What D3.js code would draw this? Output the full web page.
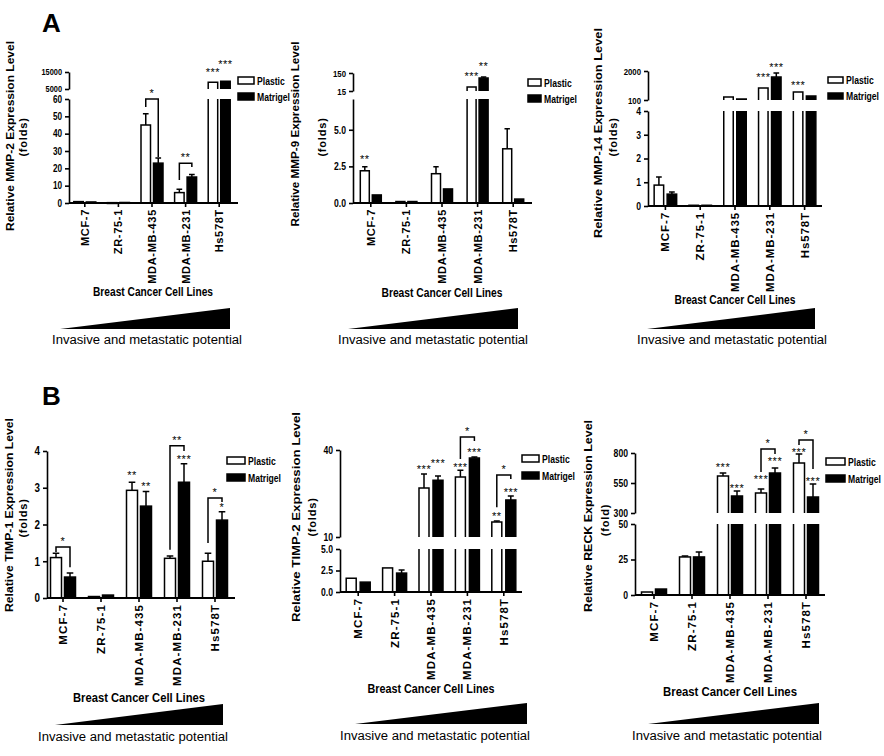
<!DOCTYPE html>
<html>
<head>
<meta charset="utf-8">
<script src="https://cdn.jsdelivr.net/npm/d3@7"></script>
<style>
  body { margin: 0; background: #fff; }
  svg text { font-family: Arial, "Liberation Sans", sans-serif; }
</style>
</head>
<body>
<svg id="fig" width="884" height="756"></svg>
<script>
// ---- data ----
const categories = ["MCF-7", "ZR-75-1", "MDA-MB-435", "MDA-MB-231", "Hs578T"];
const seriesNames = ["Plastic", "Matrigel"];

// MMP-2
const mmp2Plastic = [0.8, 0.2, 45, 6, 9000];
const mmp2PlasticErr = [0, 0, 6.5, 2, 0];
const mmp2Matrigel = [0.6, 0.3, 23, 15, 9500];
const mmp2MatrigelErr = [0, 0, 3, 1.5, 0];
const mmp2TicksLow = [0, 10, 20, 30, 40, 50, 60];
const mmp2TickLabelsLow = ["0", "10", "20", "30", "40", "50", "60"];
const mmp2TicksHigh = [5000, 15000];
const mmp2TickLabelsHigh = ["5000", "15000"];
const mmp2Stars = [[4, 0, "***", 12650], [4, 1, "***", 17350]];        // group, series, label, level
const mmp2Brackets = [[2, "*", 55.4, 26.5, 60], [3, "**", 13.3, 20.8, 23]]; // group, label, left, right, top

// MMP-9
const mmp9Plastic = [2.2, 0.1, 2.0, 45, 3.7];
const mmp9PlasticErr = [0.28, 0, 0.47, 0, 1.37];
const mmp9Matrigel = [0.55, 0.1, 0.96, 112, 0.27];
const mmp9MatrigelErr = [0, 0, 0, 8, 0];
const mmp9TicksLow = [0, 2.5, 5];
const mmp9TickLabelsLow = ["0.0", "2.5", "5.0"];
const mmp9TicksHigh = [15, 150];
const mmp9TickLabelsHigh = ["15", "150"];
const mmp9Stars = [[0, 0, "**", 2.7], [3, 0, "***", 94], [3, 1, "**", 176]];
const mmp9Brackets = [];

// MMP-14
const mmp14Plastic = [0.88, 0.03, 300, 890, 620];
const mmp14PlasticErr = [0.34, 0, 0, 0, 0];
const mmp14Matrigel = [0.5, 0.03, 165, 1600, 360];
const mmp14MatrigelErr = [0.09, 0, 0, 270, 0];
const mmp14TicksLow = [0, 1, 2, 3, 4];
const mmp14TickLabelsLow = ["0", "1", "2", "3", "4"];
const mmp14TicksHigh = [100, 2000];
const mmp14TickLabelsHigh = ["100", "2000"];
const mmp14Stars = [[3, 0, "***", 1377], [3, 1, "***", 2032], [4, 0, "***", 853]];
const mmp14Brackets = [];

// TIMP-1
const timp1Plastic = [1.1, 0.04, 2.93, 1.08, 1.0];
const timp1PlasticErr = [0.12, 0, 0.22, 0.06, 0.22];
const timp1Matrigel = [0.57, 0.08, 2.5, 3.15, 2.12];
const timp1MatrigelErr = [0.11, 0, 0.4, 0.5, 0.23];
const timp1TicksLow = [0, 1, 2, 3, 4];
const timp1TickLabelsLow = ["0", "1", "2", "3", "4"];
const timp1Stars = [[2, 0, "**", 3.25], [2, 1, "**", 2.95], [3, 1, "***", 3.66], [4, 1, "*", 2.38]];
const timp1Brackets = [[0, "*", 1.25, 0.84, 1.39], [3, "**", 1.31, 4.0, 4.14], [4, "*", 1.5, 2.61, 2.72]];

// TIMP-2
const timp2Plastic = [1.6, 2.8, 26.9, 30.7, 15.2];
const timp2PlasticErr = [0, 0, 4.8, 2.3, 0.3];
const timp2Matrigel = [1.15, 2.2, 29.6, 37.2, 22.8];
const timp2MatrigelErr = [0, 0.35, 1.4, 0.4, 1.3];
const timp2TicksLow = [0, 2.5, 5];
const timp2TickLabelsLow = ["0.0", "2.5", "5.0"];
const timp2TicksHigh = [10, 40];
const timp2TickLabelsHigh = ["10", "40"];
const timp2Stars = [[2, 0, "***", 31.9], [2, 1, "***", 34.3], [3, 0, "***", 32.9], [3, 1, "***", 37.8], [4, 0, "**", 15.7], [4, 1, "***", 24.0]];
const timp2Brackets = [[3, "*", 36.9, 43.1, 44.5], [4, "*", 20.3, 30, 31.4]];

// RECK
const reckPlastic = [2.1, 26.8, 608, 467, 717];
const reckPlasticErr = [0, 0.7, 25, 33, 75];
const reckMatrigel = [4.2, 26.8, 442, 633, 433];
const reckMatrigelErr = [0, 3.5, 41, 42, 109];
const reckTicksLow = [0, 25, 50];
const reckTickLabelsLow = ["0", "25", "50"];
const reckTicksHigh = [300, 550, 800];
const reckTickLabelsHigh = ["300", "550", "800"];
const reckStars = [[2, 0, "***", 654], [2, 1, "***", 479], [3, 0, "***", 546], [3, 1, "***", 696], [4, 0, "***", 779], [4, 1, "***", 537]];
const reckBrackets = [[3, "*", 642, 792, 833], [4, "*", 867, 667, 908]];

const xTitle = "Breast Cancer Cell Lines";
const potentialText = "Invasive and metastatic potential";

// ---- layout of the six panels ----
const panels = [
  { label: "Relative MMP-2 Expression Level", unit: "(folds)",
    plastic: mmp2Plastic, plasticErr: mmp2PlasticErr, matrigel: mmp2Matrigel, matrigelErr: mmp2MatrigelErr,
    ticksLow: mmp2TicksLow, tickLabelsLow: mmp2TickLabelsLow, ticksHigh: mmp2TicksHigh, tickLabelsHigh: mmp2TickLabelsHigh,
    stars: mmp2Stars, brackets: mmp2Brackets, tickFont: 10, highFont: 9, catFont: 11, catSpacing: 0.7,
    axisX: 69, band: [68, 236], xEnd: 238, axisY: 203, lowTop: 99, highRange: [89, 72],
    bw: 9.5, gap: 3, leg: { x: 238, y: 77, w: 16, h: 7, dy: 16 },
    ylab: { x: 10, cy: 136, len: 190 }, ulab: { x: 23, cy: 137 },
    xt: { cx: 153, y: 296, len: 120 }, wedge: { x0: 60, x1: 230, yT: 308, yB: 329 }, pot: { cx: 147, y: 344 } },
  { label: "Relative MMP-9 Expression Level", unit: "(folds)",
    plastic: mmp9Plastic, plasticErr: mmp9PlasticErr, matrigel: mmp9Matrigel, matrigelErr: mmp9MatrigelErr,
    ticksLow: mmp9TicksLow, tickLabelsLow: mmp9TickLabelsLow, ticksHigh: mmp9TicksHigh, tickLabelsHigh: mmp9TickLabelsHigh,
    stars: mmp9Stars, brackets: mmp9Brackets, tickFont: 10.5, highFont: 9.5, catFont: 11, catSpacing: 0.7,
    axisX: 353, band: [353, 531], xEnd: 532, axisY: 203, lowTop: 99, lowMax: 7.1, highRange: [91, 73],
    bw: 9, gap: 3, leg: { x: 528, y: 79, w: 13, h: 7, dy: 16 },
    ylab: { x: 295, cy: 134, len: 185 }, ulab: { x: 322, cy: 137 },
    xt: { cx: 442, y: 297, len: 121 }, wedge: { x0: 348, x1: 518, yT: 308, yB: 329 }, pot: { cx: 433, y: 344 } },
  { label: "Relative MMP-14 Expression Level", unit: "(folds)",
    plastic: mmp14Plastic, plasticErr: mmp14PlasticErr, matrigel: mmp14Matrigel, matrigelErr: mmp14MatrigelErr,
    ticksLow: mmp14TicksLow, tickLabelsLow: mmp14TickLabelsLow, ticksHigh: mmp14TicksHigh, tickLabelsHigh: mmp14TickLabelsHigh,
    stars: mmp14Stars, brackets: mmp14Brackets, tickFont: 10.5, highFont: 9.5, catFont: 11.5, catSpacing: 0.9,
    axisX: 648, band: [648, 822], xEnd: 822, axisY: 206, lowTop: 111, highRange: [100, 71],
    bw: 9.5, gap: 3.5, leg: { x: 828, y: 77, w: 15, h: 6, dy: 16 },
    ylab: { x: 598, cy: 133, len: 210 }, ulab: { x: 613, cy: 137 },
    xt: { cx: 735, y: 304, len: 121 }, wedge: { x0: 647, x1: 815, yT: 308, yB: 329 }, pot: { cx: 732, y: 344 } },
  { label: "Relative TIMP-1 Expression Level", unit: "(folds)",
    plastic: timp1Plastic, plasticErr: timp1PlasticErr, matrigel: timp1Matrigel, matrigelErr: timp1MatrigelErr,
    ticksLow: timp1TicksLow, tickLabelsLow: timp1TickLabelsLow, ticksHigh: null, tickLabelsHigh: null,
    stars: timp1Stars, brackets: timp1Brackets, tickFont: 12, highFont: 12, catFont: 11.5, catSpacing: 1.1,
    axisX: 47, band: [44, 234], xEnd: 235, axisY: 598, lowTop: 451,
    bw: 11, gap: 3, leg: { x: 227, y: 457, w: 18, h: 7, dy: 17 },
    ylab: { x: 9, cy: 515, len: 194 }, ulab: { x: 23, cy: 518 },
    xt: { cx: 139, y: 702, len: 132 }, wedge: { x0: 55, x1: 223, yT: 704, yB: 725 }, pot: { cx: 133, y: 741 } },
  { label: "Relative TIMP-2 Expression Level", unit: "(folds)",
    plastic: timp2Plastic, plasticErr: timp2PlasticErr, matrigel: timp2Matrigel, matrigelErr: timp2MatrigelErr,
    ticksLow: timp2TicksLow, tickLabelsLow: timp2TickLabelsLow, ticksHigh: timp2TicksHigh, tickLabelsHigh: timp2TickLabelsHigh,
    stars: timp2Stars, brackets: timp2Brackets, tickFont: 10.5, highFont: 10.5, catFont: 11.5, catSpacing: 1.1,
    axisX: 340, band: [340, 522], xEnd: 522, axisY: 592, lowTop: 549, highRange: [537, 450],
    bw: 10, gap: 4, leg: { x: 522, y: 455, w: 17, h: 7, dy: 17 },
    ylab: { x: 296, cy: 517, len: 210 }, ulab: { x: 312, cy: 517 },
    xt: { cx: 431, y: 693, len: 127 }, wedge: { x0: 355, x1: 527, yT: 703, yB: 724 }, pot: { cx: 435, y: 740 } },
  { label: "Relative RECK Expression Level", unit: "(fold)",
    plastic: reckPlastic, plasticErr: reckPlasticErr, matrigel: reckMatrigel, matrigelErr: reckMatrigelErr,
    ticksLow: reckTicksLow, tickLabelsLow: reckTickLabelsLow, ticksHigh: reckTicksHigh, tickLabelsHigh: reckTickLabelsHigh,
    stars: reckStars, brackets: reckBrackets, tickFont: 10.5, highFont: 10.5, catFont: 11.5, catSpacing: 1.1,
    axisX: 635, band: [635, 825], xEnd: 825, axisY: 595, lowTop: 524, highRange: [513, 453],
    bw: 11, gap: 3, leg: { x: 826, y: 458, w: 19, h: 7, dy: 17 },
    ylab: { x: 588, cy: 516, len: 192 }, ulab: { x: 605, cy: 520 },
    xt: { cx: 730, y: 696, len: 134 }, wedge: { x0: 648, x1: 819, yT: 703, yB: 724 }, pot: { cx: 727, y: 740 } }
];

const svg = d3.select("#fig");
svg.append("rect").attr("width", 884).attr("height", 756).attr("fill", "#fff");

// squeeze text horizontally (the original uses a narrow bold face)
function condense(sel, k) {
  sel.each(function() {
    const w = this.getComputedTextLength();
    d3.select(this).attr("textLength", w * k).attr("lengthAdjust", "spacingAndGlyphs");
  });
}

// panel letters
svg.append("text").attr("x", 42).attr("y", 32).attr("font-size", 26).attr("font-weight", "bold").text("A");
svg.append("text").attr("x", 42).attr("y", 405).attr("font-size", 26).attr("font-weight", "bold").text("B");

panels.forEach(function(p) {
  const g = svg.append("g");

  const x = d3.scaleBand().domain(categories).range(p.band).paddingInner(0).paddingOuter(0);
  const lowMax = p.lowMax !== undefined ? p.lowMax : d3.max(p.ticksLow);
  const yLow = d3.scaleLinear().domain([0, lowMax]).range([p.axisY, p.lowTop]);
  const yHigh = p.ticksHigh ? d3.scaleLinear().domain(d3.extent(p.ticksHigh)).range(p.highRange) : null;
  const highMin = p.ticksHigh ? d3.min(p.ticksHigh) : Infinity;

  // value -> pixel across the broken axis
  function yOf(v) {
    if (!yHigh || v <= lowMax) return yLow(v);
    if (v >= highMin) return yHigh(v);
    const t = (v - lowMax) / (highMin - lowMax);
    return p.lowTop + t * (yHigh(highMin) - p.lowTop);
  }
  function barX(i, s) {
    const c = x(categories[i]) + x.bandwidth() / 2;
    return s === 0 ? c - p.gap / 2 - p.bw : c + p.gap / 2;
  }

  // bars
  const rows = [];
  categories.forEach((c, i) => {
    rows.push({ i: i, s: 0, v: p.plastic[i], e: p.plasticErr[i] });
    rows.push({ i: i, s: 1, v: p.matrigel[i], e: p.matrigelErr[i] });
  });

  rows.forEach(function(d) {
    const bx = barX(d.i, d.s);
    const fill = d.s === 0 ? "#fff" : "#000";
    // error bar first, so the bar covers the lower part
    if (d.e > 0) {
      const cx = bx + p.bw / 2, top = yOf(d.v + d.e), cw = p.bw * 0.6;
      g.append("path")
        .attr("d", `M${cx},${yOf(d.v)}V${top}M${cx - cw / 2},${top}H${cx + cw / 2}`)
        .attr("stroke", "#000").attr("stroke-width", 1.5).attr("fill", "none");
    }
    if (!yHigh || d.v <= lowMax) {
      g.append("rect")
        .attr("x", bx).attr("y", yOf(d.v))
        .attr("width", p.bw).attr("height", Math.max(p.axisY - yOf(d.v), 0.8))
        .attr("fill", fill).attr("stroke", "#000").attr("stroke-width", 1.5);
    } else {
      // lower piece, open at the break
      g.append("rect").attr("x", bx).attr("y", p.lowTop).attr("width", p.bw)
        .attr("height", p.axisY - p.lowTop).attr("fill", fill);
      g.append("path")
        .attr("d", `M${bx},${p.axisY}V${p.lowTop}M${bx + p.bw},${p.lowTop}V${p.axisY}`)
        .attr("stroke", "#000").attr("stroke-width", 1.5).attr("fill", "none");
      // upper piece, open at the break
      const yb = yHigh(highMin), yt = yHigh(d.v);
      g.append("rect").attr("x", bx).attr("y", yt).attr("width", p.bw)
        .attr("height", yb - yt).attr("fill", fill);
      g.append("path")
        .attr("d", `M${bx},${yb}V${yt}H${bx + p.bw}V${yb}`)
        .attr("stroke", "#000").attr("stroke-width", 1.5).attr("fill", "none");
    }
  });

  // significance stars above single bars
  p.stars.forEach(function(st) {
    g.append("text")
      .attr("x", barX(st[0], st[1]) + p.bw / 2).attr("y", yOf(st[3]))
      .attr("text-anchor", "middle").attr("font-size", 11).attr("letter-spacing", 0.5)
      .text(st[2]);
  });

  // brackets between the two bars of a group
  p.brackets.forEach(function(b) {
    const xl = barX(b[0], 0) + p.bw / 2, xr = barX(b[0], 1) + p.bw / 2;
    g.append("path")
      .attr("d", `M${xl},${yOf(b[2])}V${yOf(b[4])}H${xr}V${yOf(b[3])}`)
      .attr("stroke", "#000").attr("stroke-width", 1.5).attr("fill", "none");
    g.append("text")
      .attr("x", (xl + xr) / 2).attr("y", yOf(b[4]) - 2)
      .attr("text-anchor", "middle").attr("font-size", 11).attr("letter-spacing", 0.5)
      .text(b[1]);
  });

  // y axis (lower and, if broken, upper segment)
  function styleAxis(ax, size) {
    ax.attr("font-family", "Arial, 'Liberation Sans', sans-serif")
      .attr("font-size", size).attr("font-weight", "bold");
    ax.selectAll("path, line").attr("stroke-width", 1.6);
    ax.selectAll("text").call(condense, 0.82);
  }
  const axLow = g.append("g").attr("transform", `translate(${p.axisX},0)`)
    .call(d3.axisLeft(yLow).tickValues(p.ticksLow)
      .tickFormat((d, i) => p.tickLabelsLow[i]).tickSize(4).tickSizeOuter(0));
  styleAxis(axLow, p.tickFont);
  if (yHigh) {
    const axHigh = g.append("g").attr("transform", `translate(${p.axisX},0)`)
      .call(d3.axisLeft(yHigh).tickValues(p.ticksHigh)
        .tickFormat((d, i) => p.tickLabelsHigh[i]).tickSize(4).tickSizeOuter(0));
    styleAxis(axHigh, p.highFont);
  }

  // x axis
  const axX = g.append("g").attr("transform", `translate(0,${p.axisY})`)
    .call(d3.axisBottom(x).tickSize(4).tickFormat(""));
  axX.select(".domain").remove();
  axX.selectAll("line").attr("stroke-width", 1.6);
  g.append("line")
    .attr("x1", p.axisX).attr("x2", p.xEnd).attr("y1", p.axisY).attr("y2", p.axisY)
    .attr("stroke", "#000").attr("stroke-width", 1.8);

  // rotated category labels
  categories.forEach(function(c) {
    const cx = x(c) + x.bandwidth() / 2;
    g.append("text")
      .attr("transform", `translate(${cx + 4},${p.axisY + 6}) rotate(-90)`)
      .attr("text-anchor", "end").attr("font-size", p.catFont).attr("font-weight", "bold")
      .attr("letter-spacing", p.catSpacing)
      .text(c);
  });

  // y title
  g.append("text")
    .attr("transform", `translate(${p.ylab.x + 4},${p.ylab.cy}) rotate(-90)`)
    .attr("text-anchor", "middle").attr("font-size", 11).attr("font-weight", "bold")
    .attr("textLength", p.ylab.len).attr("lengthAdjust", "spacingAndGlyphs")
    .text(p.label);
  g.append("text")
    .attr("transform", `translate(${p.ulab.x + 4},${p.ulab.cy}) rotate(-90)`)
    .attr("text-anchor", "middle").attr("font-size", 11).attr("font-weight", "bold")
    .attr("letter-spacing", 0.8)
    .text(p.unit);

  // legend
  seriesNames.forEach(function(name, k) {
    const ly = p.leg.y + k * p.leg.dy;
    g.append("rect")
      .attr("x", p.leg.x).attr("y", ly).attr("width", p.leg.w).attr("height", p.leg.h)
      .attr("fill", k === 0 ? "#fff" : "#000").attr("stroke", "#000").attr("stroke-width", 1.5);
    const tx = p.leg.x + p.leg.w + 3;
    const room = 881 - tx;
    // narrow bold face drawn by a horizontal squeeze; near the right edge squeeze harder
    const t = g.append("text")
      .attr("font-size", 10.5).attr("font-weight", "bold")
      .text(name);
    const natural = t.node().getComputedTextLength();
    const k2 = Math.min(0.82, room / natural);
    t.attr("transform", `translate(${tx},${ly + p.leg.h + 1}) scale(${k2},1)`);
  });

  // x title
  g.append("text")
    .attr("x", p.xt.cx).attr("y", p.xt.y)
    .attr("text-anchor", "middle").attr("font-size", 12.5).attr("font-weight", "bold")
    .attr("textLength", p.xt.len).attr("lengthAdjust", "spacingAndGlyphs")
    .text(xTitle);

  // wedge and caption
  const w = p.wedge;
  g.append("path")
    .attr("d", `M${w.x0},${w.yB}L${w.x1},${w.yT}L${w.x1},${w.yB}Z`)
    .attr("fill", "#000");
  g.append("text")
    .attr("x", p.pot.cx).attr("y", p.pot.y)
    .attr("text-anchor", "middle").attr("font-size", 12.5)
    .attr("textLength", 190).attr("lengthAdjust", "spacingAndGlyphs")
    .text(potentialText);
});
</script>
</body>
</html>
